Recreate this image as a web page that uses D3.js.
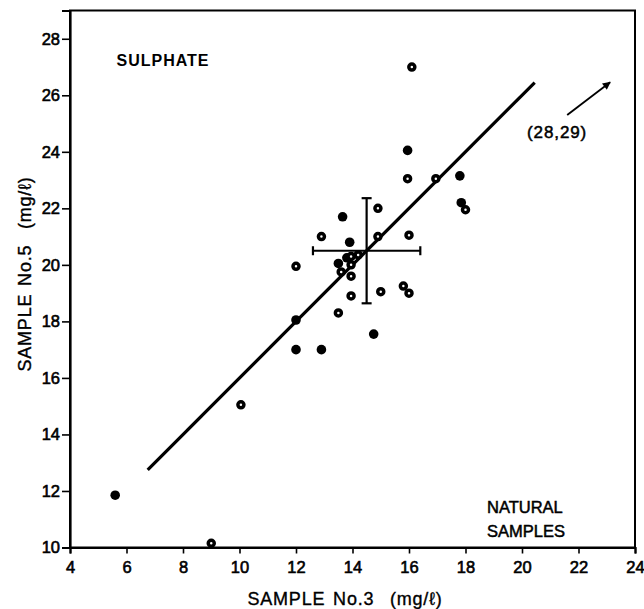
<!DOCTYPE html>
<html>
<head>
<meta charset="utf-8">
<script src="https://cdn.jsdelivr.net/npm/d3@7"></script>
<style>
  html, body { margin: 0; padding: 0; background: #fff; }
  svg text { font-family: "Liberation Sans", Arial, Helvetica, sans-serif; fill: #000; }
</style>
</head>
<body>
<svg id="chart" width="644" height="609"></svg>
<script>
// Sulphate results: sample No.3 vs sample No.5 (mg/l)
// Laboratories reporting with solid markers
const solidX = [5.6, 12.0, 12.0, 12.9, 14.75, 13.65, 13.9, 13.8, 13.5, 15.95, 17.8, 17.85];
const solidY = [11.85, 18.05, 17.0, 17.0, 17.55, 21.7, 20.8, 20.25, 20.05, 24.05, 23.15, 22.2];
// Laboratories reporting with open-centred markers
const ringX = [9.0, 10.05, 12.0, 12.9, 14.9, 16.0, 14.9, 16.1, 15.95, 16.95, 18.0, 13.95, 14.2, 13.95, 13.6, 13.95, 13.95, 15.0, 15.8, 16.0, 13.5];
const ringY = [10.15, 15.05, 19.95, 21.0, 21.0, 21.05, 22.0, 27.0, 23.05, 23.05, 21.95, 20.3, 20.35, 20.0, 19.75, 19.6, 18.9, 19.05, 19.25, 19.0, 18.3];

// 45-degree line: y = x + offset, drawn between these x values
const lineSlope = 1.0;
const lineOffset = 6.0;
const lineXRange = [6.75, 20.45];

// Median point with its spread
const centre = [14.5, 20.5];
const spreadX = 1.9;
const spreadY = 1.86;

// Off-scale laboratory, shown with an arrow
const outlierLabel = "(28,29)";
const arrowFrom = [21.6, 25.3];
const arrowTo = [23.12, 26.46];

const xTicks = [4, 6, 8, 10, 12, 14, 16, 18, 20, 22, 24];
const yTicks = [10, 12, 14, 16, 18, 20, 22, 24, 26, 28];
const xDomain = [4, 24];
const yDomain = [10, 29];

const svg = d3.select("#chart");
const plotL = 70, plotR = 635, plotT = 10.5, plotB = 547.5;

const x = d3.scaleLinear().domain(xDomain).range([plotL, plotR]);
const y = d3.scaleLinear().domain(yDomain).range([plotB, plotT]);

// Frame
svg.append("rect")
  .attr("x", plotL).attr("y", plotT)
  .attr("width", plotR - plotL).attr("height", plotB - plotT)
  .attr("fill", "none").attr("stroke", "#000").attr("stroke-width", 2);

// Axes
const xAxis = d3.axisBottom(x).tickValues(xTicks).tickSize(6).tickPadding(8).tickFormat(d3.format("d"));
const yAxis = d3.axisLeft(y).tickValues(yTicks).tickSize(8).tickPadding(2).tickFormat(d3.format("d"));

const gx = svg.append("g").attr("transform", `translate(0,${plotB})`).call(xAxis);
const gy = svg.append("g").attr("transform", `translate(${plotL},0)`).call(yAxis);
[gx, gy].forEach(g => {
  g.select(".domain").attr("stroke-width", 2.2);
  g.selectAll(".tick line").attr("stroke-width", 1.6);
  g.selectAll(".tick text")
    .attr("font-size", 16.5)
    .attr("font-family", "Liberation Sans, Arial, sans-serif")
    .attr("stroke", "#000").attr("stroke-width", 0.6);
});

// Axis titles
svg.append("text")
  .attr("x", 345).attr("y", 605)
  .attr("text-anchor", "middle")
  .attr("font-size", 18)
  .attr("stroke", "#000").attr("stroke-width", 0.35)
  .style("word-spacing", "2px")
  .style("letter-spacing", "0.8px")
  .style("white-space", "pre")
  .text("SAMPLE No.3  (mg/ℓ)");

svg.append("text")
  .attr("transform", "translate(31,274) rotate(-90)")
  .attr("text-anchor", "middle")
  .attr("font-size", 18)
  .attr("stroke", "#000").attr("stroke-width", 0.35)
  .style("word-spacing", "2px")
  .style("letter-spacing", "0.8px")
  .style("white-space", "pre")
  .text("SAMPLE No.5  (mg/ℓ)");

// 45-degree line
svg.append("line")
  .attr("x1", x(lineXRange[0])).attr("y1", y(lineSlope * lineXRange[0] + lineOffset))
  .attr("x2", x(lineXRange[1])).attr("y2", y(lineSlope * lineXRange[1] + lineOffset))
  .attr("stroke", "#000").attr("stroke-width", 3.2);

// Spread cross around the median
const cross = svg.append("g").attr("stroke", "#000").attr("stroke-width", 2.2);
cross.append("line")
  .attr("x1", x(centre[0] - spreadX)).attr("x2", x(centre[0] + spreadX))
  .attr("y1", y(centre[1])).attr("y2", y(centre[1]));
cross.append("line")
  .attr("x1", x(centre[0])).attr("x2", x(centre[0]))
  .attr("y1", y(centre[1] - spreadY)).attr("y2", y(centre[1] + spreadY));
[centre[0] - spreadX, centre[0] + spreadX].forEach(v => {
  cross.append("line")
    .attr("x1", x(v)).attr("x2", x(v))
    .attr("y1", y(centre[1]) - 4.5).attr("y2", y(centre[1]) + 4.5);
});
[centre[1] - spreadY, centre[1] + spreadY].forEach(v => {
  cross.append("line")
    .attr("x1", x(centre[0]) - 5).attr("x2", x(centre[0]) + 5)
    .attr("y1", y(v)).attr("y2", y(v));
});

// Markers
const solid = d3.zip(solidX, solidY);
const ring = d3.zip(ringX, ringY);

svg.append("g").selectAll("circle").data(solid).join("circle")
  .attr("cx", d => x(d[0])).attr("cy", d => y(d[1]))
  .attr("r", 4.8).attr("fill", "#000");

svg.append("g").selectAll("circle").data(ring).join("circle")
  .attr("cx", d => x(d[0])).attr("cy", d => y(d[1]))
  .attr("r", 3.0).attr("fill", "#fff")
  .attr("stroke", "#000").attr("stroke-width", 3.5);

// Labels
svg.append("text")
  .attr("x", 116.5).attr("y", 65.7)
  .attr("font-size", 16).attr("font-weight", "bold")
  .style("letter-spacing", "1px")
  .text("SULPHATE");

svg.append("text")
  .attr("x", 487).attr("y", 512.5)
  .attr("font-size", 16.5)
  .attr("stroke", "#000").attr("stroke-width", 0.5)
  .text("NATURAL");
svg.append("text")
  .attr("x", 487).attr("y", 537.3)
  .attr("font-size", 16.5)
  .attr("stroke", "#000").attr("stroke-width", 0.5)
  .text("SAMPLES");

// Arrow toward the off-scale result
const defs = svg.append("defs");
defs.append("marker")
  .attr("id", "head").attr("viewBox", "0 0 10 10")
  .attr("refX", 9).attr("refY", 5)
  .attr("markerWidth", 12).attr("markerHeight", 8)
  .attr("markerUnits", "userSpaceOnUse")
  .attr("orient", "auto")
  .append("path").attr("d", "M0,0 L10,5 L0,10 Z").attr("fill", "#000");

svg.append("line")
  .attr("x1", x(arrowFrom[0])).attr("y1", y(arrowFrom[1]))
  .attr("x2", x(arrowTo[0])).attr("y2", y(arrowTo[1]))
  .attr("stroke", "#000").attr("stroke-width", 1.8)
  .attr("marker-end", "url(#head)");

svg.append("text")
  .attr("x", 527).attr("y", 137.5)
  .attr("font-size", 17)
  .style("letter-spacing", "0.9px")
  .attr("stroke", "#000").attr("stroke-width", 0.5)
  .text(outlierLabel);
</script>
</body>
</html>
